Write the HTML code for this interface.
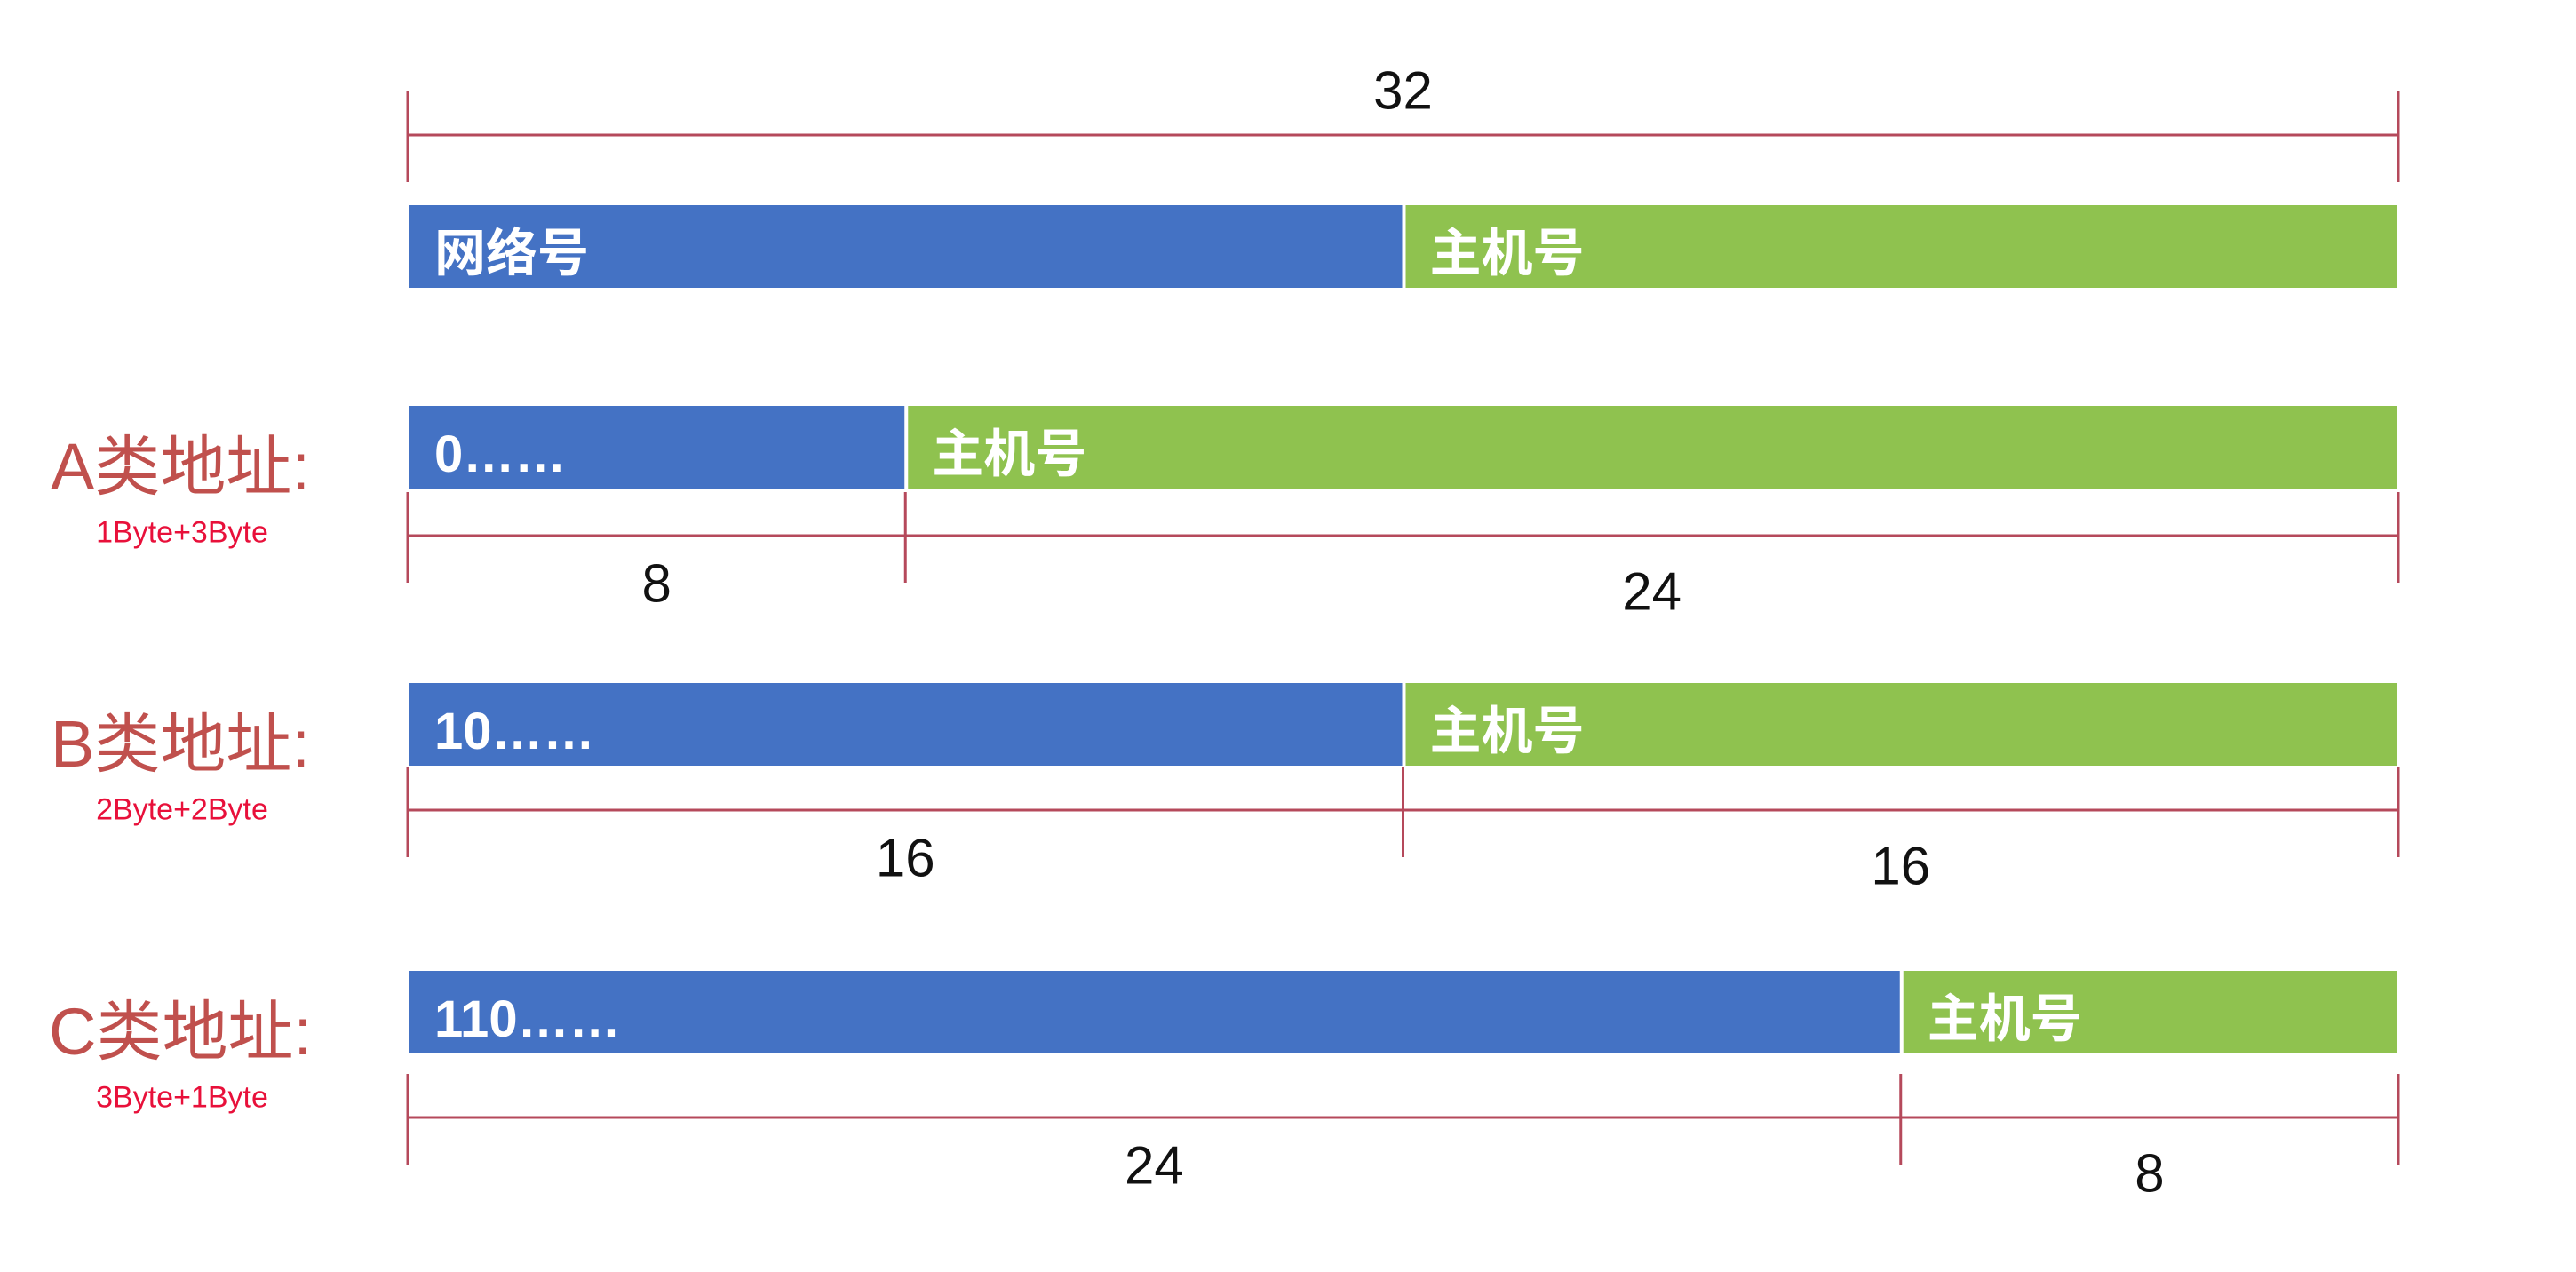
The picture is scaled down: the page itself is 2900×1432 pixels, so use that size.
<!DOCTYPE html>
<html><head><meta charset="utf-8"><style>
html,body{margin:0;padding:0;background:#fff;}
svg{display:block;}
text{font-family:"Liberation Sans","Noto Sans CJK SC",sans-serif;}
</style></head><body>
<svg id="chart" width="2900" height="1432" viewBox="0 0 2900 1432" xmlns="http://www.w3.org/2000/svg"></svg>
<script>
const rowNames = ["通用", "A类地址:", "B类地址:", "C类地址:"];
const rowSubs = ["", "1Byte+3Byte", "2Byte+2Byte", "3Byte+1Byte"];
const netBits = [16, 8, 16, 24];
const netLabels = ["网络号", "0……", "10……", "110……"];
const hostLabel = "主机号";
const totalBits = 32;

const NS = "http://www.w3.org/2000/svg";
const svg = document.getElementById('chart');
const X0 = 459, X1 = 2700;
function x(b){ return X0 + b * (X1 - X0) / totalBits; }
const barTop = [231, 457, 769, 1093];
const barH = 93;
const dimLine = [null, 603, 912, 1258];
const BLUE = "#4472c4", GREEN = "#8fc24f", DIM = "#b5495b";

function el(tag, attrs, txt){
  const e = document.createElementNS(NS, tag);
  for (const k in attrs) e.setAttribute(k, attrs[k]);
  if (txt !== undefined) e.textContent = txt;
  svg.appendChild(e);
  return e;
}
function dimTick(px, cy){
  const t = el('line', {x1:px, x2:px, y1:cy-51, y2:cy+51, stroke:DIM, 'stroke-width':3});
  
  
}

const topLine = el('line', {x1:x(0), x2:x(totalBits), y1:152, y2:152, stroke:DIM, 'stroke-width':3});


dimTick(x(0), 154); dimTick(x(totalBits), 154);
const topNum = el('text', {x:(x(0)+x(totalBits))/2, y:102, 'font-size':60, 'text-anchor':'middle', 'dominant-baseline':'central', fill:'#111'}, String(totalBits));



for (let i = 0; i < rowNames.length; i++) {
  const yT = barTop[i], n = netBits[i];
  const b = el('rect', {x:x(0)+2, y:yT, width:x(n)-x(0)-3, height:barH, fill:BLUE});
  
  
  const g = el('rect', {x:x(n)+3, y:yT, width:x(totalBits)-x(n)-5, height:barH, fill:GREEN});
  
  
  const nt = el('text', {x:x(0)+30, y:yT+barH/2+8, 'font-size':58, 'font-weight':'bold', fill:'#fff', 'dominant-baseline':'central'}, netLabels[i]);
  
  
  const ht = el('text', {x:x(n)+30, y:yT+barH/2+8, 'font-size':58, 'font-weight':'bold', fill:'#fff', 'dominant-baseline':'central'}, hostLabel);
  
  
  if (i === 0) continue;
  const cy = yT + barH/2 + 22;
  const cl = el('text', {x:203, y:cy, 'font-size':74, fill:'#c0504d', 'text-anchor':'middle', 'dominant-baseline':'central'}, rowNames[i]);
  
  
  const sl = el('text', {x:205, y:cy+74, 'font-size':34, fill:'#e8103a', 'text-anchor':'middle', 'dominant-baseline':'central'}, rowSubs[i]);
  
  
  const dy = dimLine[i];
  const dl = el('line', {x1:x(0), x2:x(totalBits), y1:dy, y2:dy, stroke:DIM, 'stroke-width':3});
  
  
  dimTick(x(0), dy+2); dimTick(x(n), dy+2); dimTick(x(totalBits), dy+2);
  const n1 = el('text', {x:(x(0)+x(n))/2, y:dy+54, 'font-size':60, fill:'#111', 'text-anchor':'middle', 'dominant-baseline':'central'}, String(n));
  
  
  const n2 = el('text', {x:(x(n)+x(totalBits))/2, y:dy+63, 'font-size':60, fill:'#111', 'text-anchor':'middle', 'dominant-baseline':'central'}, String(totalBits - n));
  
  
}
</script>
</body></html>
